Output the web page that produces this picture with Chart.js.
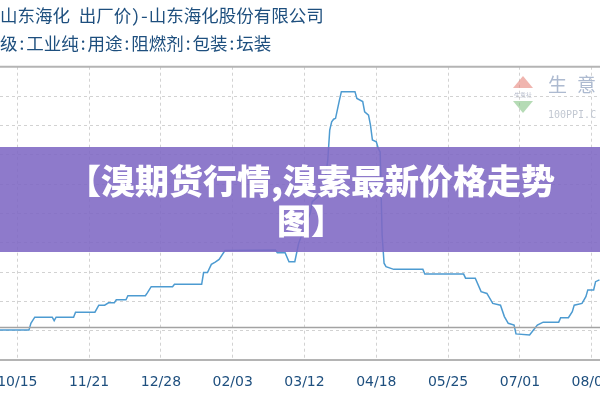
<!DOCTYPE html>
<html>
<head>
<meta charset="utf-8">
<script src="https://cdn.jsdelivr.net/npm/chart.js@4.4.1/dist/chart.umd.min.js"></script>
<style>
  html, body { margin: 0; padding: 0; background: #ffffff; }
  #wrap { width: 600px; height: 400px; }
</style>
</head>
<body>
<div id="wrap"><canvas id="c" width="600" height="400"></canvas></div>
<script>
// ---- data (days counted from 10/15) ----
const titleLines = ['山东海化 出厂价)-山东海化股份有限公司', '级:工业纯:用途:阻燃剂:包装:坛装'];
const bannerLines = ['【溴期货行情,溴素最新价格走势', '图】'];
const tickDays = [0, 37, 74, 111, 148, 185, 222, 259, 296];
const tickLabels = ['10/15', '11/21', '12/28', '02/03', '03/12', '04/18', '05/25', '07/01', '08/07'];
const dayOffsets = [-9, 6, 7, 9, 18, 19, 20, 29, 30, 40, 42, 45, 47, 50, 51, 56, 57, 66, 67, 69,
  80, 81, 95, 96, 98, 100, 102, 104, 107, 133, 134, 138, 140, 143, 145, 148, 151, 152, 155, 157,
  159, 160, 161, 162, 163, 164, 166, 167, 174, 175, 178, 179, 181, 182, 183, 185, 186, 187, 188, 189,
  190, 194, 209, 210, 230, 231, 236, 239, 242, 245, 249, 251, 253, 256, 257, 264, 266, 268, 271, 279,
  280, 284, 286, 287, 291, 293, 294, 297, 298, 300];
const prices = [20020, 20020, 20250, 20460, 20460, 20340, 20460, 20460, 20630, 20630, 20870, 20870, 20950, 20950, 21050, 21050, 21190, 21190, 21290, 21500,
  21500, 21580, 21580, 21980, 21980, 22260, 22340, 22430, 22730, 22750, 22660, 22660, 22350, 22350, 22980, 23500, 24010, 24400, 24570, 24680,
  25310, 25820, 26840, 27120, 27210, 27240, 27860, 28150, 28150, 27920, 27810, 27460, 27350, 27010, 26500, 26440, 26220, 26090, 23260, 22300,
  22180, 22090, 22090, 21930, 21930, 21790, 21790, 21330, 21270, 20930, 20870, 20480, 20250, 20190, 19890, 19850, 20020, 20190, 20290, 20290,
  20440, 20440, 20650, 20870, 20930, 21160, 21390, 21390, 21670, 21730];
const refLevel = 20110;
const xMin = -8.92, xMax = 300.28;
const yMin = 19000, yMax = 29000, yStep = 1000;

const linePoints = dayOffsets.map((d, i) => ({ x: d, y: prices[i] }));
const refPoints = [{ x: xMin, y: refLevel }, { x: xMax, y: refLevel }];

const decor = {
  id: 'decor',
  beforeDraw(chart) {
    const ctx = chart.ctx;
    ctx.save();
    ctx.fillStyle = '#ffffff';
    ctx.fillRect(0, 0, chart.width, chart.height);
    ctx.restore();
  },
  beforeDatasetsDraw(chart) {
    const ctx = chart.ctx;
    ctx.save();
    // watermark logo
    ctx.fillStyle = 'rgba(228,120,110,0.55)';
    ctx.beginPath(); ctx.moveTo(523, 76); ctx.lineTo(533, 88); ctx.lineTo(513, 88); ctx.closePath(); ctx.fill();
    ctx.fillStyle = 'rgba(120,190,120,0.55)';
    ctx.beginPath(); ctx.moveTo(513, 101); ctx.lineTo(533, 101); ctx.lineTo(523, 113); ctx.closePath(); ctx.fill();
    ctx.fillStyle = 'rgba(120,130,160,0.6)';
    ctx.font = '6px "DejaVu Sans"';
    ctx.textAlign = 'center'; ctx.textBaseline = 'middle';
    ctx.fillText('生意社', 523, 95);
    ctx.fillStyle = '#adbad0';
    ctx.font = '19px "Noto Sans CJK SC"';
    ctx.textAlign = 'left';
    ctx.fillText('生', 548, 85);
    ctx.fillText('意', 577, 85);
    ctx.fillStyle = '#c2c8d2';
    ctx.font = '10px "DejaVu Sans Mono"';
    ctx.fillText('100PPI.C', 548, 115);
    ctx.restore();
  },
  afterDraw(chart) {
    const ctx = chart.ctx;
    const a = chart.chartArea;
    ctx.save();
    // top border
    ctx.strokeStyle = '#b4b4b4';
    ctx.lineWidth = 2;
    ctx.beginPath(); ctx.moveTo(a.left, a.top); ctx.lineTo(a.right, a.top); ctx.stroke();
    // banner
    ctx.fillStyle = 'rgba(126,104,196,0.88)';
    ctx.fillRect(0, 147, 600, 105);
    ctx.fillStyle = '#ffffff';
    ctx.font = '900 34px "Noto Sans CJK SC"';
    ctx.textAlign = 'center';
    ctx.textBaseline = 'middle';
    ctx.fillText(bannerLines[0], 311, 181);
    ctx.fillText(bannerLines[1], 311, 221);
    ctx.restore();
  }
};

new Chart(document.getElementById('c'), {
  type: 'line',
  data: {
    datasets: [
      { data: refPoints, borderColor: '#a3a3a3', borderWidth: 1.5, pointRadius: 0, tension: 0 },
      { data: linePoints, borderColor: '#4d9bd1', borderWidth: 1.5, pointRadius: 0, tension: 0 }
    ]
  },
  options: {
    responsive: false,
    animation: false,
    layout: { padding: { left: 0, right: 0, top: 0, bottom: 0 } },
    plugins: {
      legend: { display: false },
      tooltip: { enabled: false },
      title: {
        display: true,
        text: titleLines,
        align: 'start',
        color: '#1e4f7e',
        font: { family: '"Noto Sans Mono CJK SC", "Noto Sans CJK SC"', size: 17.5, weight: 'normal', lineHeight: 1.6 },
        padding: { top: 1, bottom: 9.7 }
      }
    },
    scales: {
      x: {
        type: 'linear',
        min: xMin,
        max: xMax,
        afterBuildTicks: s => { s.ticks = tickDays.map(v => ({ value: v })); },
        afterFit: s => { s.height = 40; s.paddingLeft = 0; s.paddingRight = 0; },
        ticks: {
          callback: v => tickLabels[tickDays.indexOf(v)],
          color: '#1e4f7e',
          font: { family: '"DejaVu Sans"', size: 14 },
          padding: 14,
          maxRotation: 0,
          autoSkip: false
        },
        grid: { color: '#d2d2d2', drawTicks: false, lineWidth: 1 },
        border: { display: true, color: '#b4b4b4', width: 2, dash: [3, 3] }
      },
      y: {
        min: yMin,
        max: yMax,
        afterFit: s => { s.width = 0; },
        ticks: { display: false, stepSize: yStep },
        grid: { color: '#d2d2d2', drawTicks: false, lineWidth: 1 },
        border: { display: false, dash: [3, 3] }
      }
    }
  },
  plugins: [decor]
});
</script>
</body>
</html>
